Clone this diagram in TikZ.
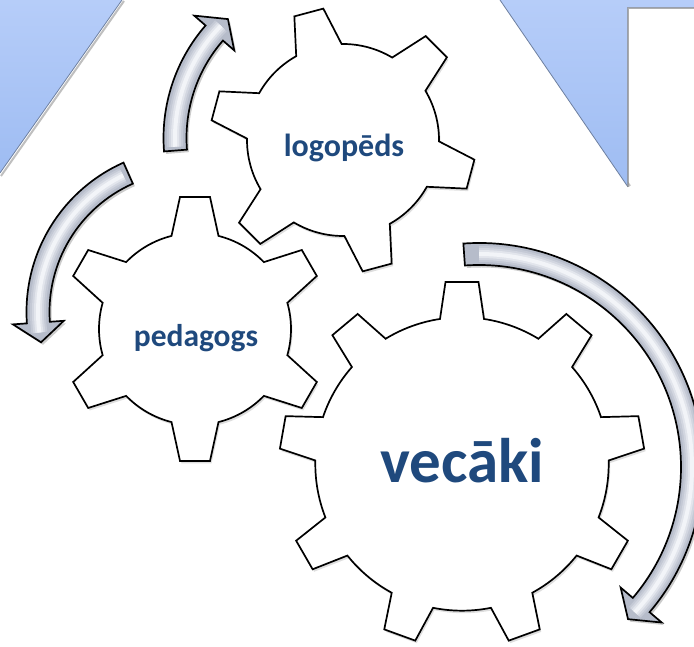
\documentclass[tikz,border=0pt]{standalone}
\usepackage{fontspec}
\setmainfont{Carlito}
\definecolor{txtblue}{HTML}{1F497D}
\definecolor{bluetop}{RGB}{182,205,249}
\definecolor{bluebot}{RGB}{158,188,242}
\definecolor{blueedge}{RGB}{110,128,160}
\definecolor{arrowbase}{RGB}{182,188,202}
\definecolor{arrowc1}{RGB}{196,201,213}
\definecolor{arrowc2}{RGB}{210,214,224}
\definecolor{arrowc3}{RGB}{226,229,236}
\definecolor{arrowc4}{RGB}{242,244,248}
\tikzset{
  gearline/.style={draw=black, fill=white, line width=1.7pt, line join=miter},
  gearshadow/.style={fill=black, opacity=0.13},
  arrowshadow/.style={fill=black, opacity=0.2},
  arrowbody/.style={fill=arrowbase},
  arrowline/.style={draw=black, line width=1.7pt, line join=miter},
  lbl/.style={text=txtblue, inner sep=0pt, anchor=base, font=\bfseries},
}
% #1 centre, #2 teeth, #3 tip radius, #4 root radius, #5 tip half width, #6 root half width, #7 rotation
\newcommand{\drawgear}[7]{%
  \pgfmathsetmacro\gb{atan(#5/#3)}%
  \pgfmathsetmacro\gRt{#3*sqrt(1+(#5/#3)*(#5/#3))}%
  \pgfmathsetmacro\ga{asin(#6/#4)}%
  \pgfmathsetmacro\gs{360/#2}%
  \pgfmathtruncatemacro\gm{#2-1}%
  \def\gearshape{({#7-\ga}:#4) \foreach \k in {0,...,\gm}{ -- ({#7+\k*\gs-\gb}:\gRt) -- ({#7+\k*\gs+\gb}:\gRt) -- ({#7+\k*\gs+\ga}:#4) arc[start angle={#7+\k*\gs+\ga}, end angle={#7+(\k+1)*\gs-\ga}, radius=#4]} -- cycle}%
  \fill[gearshadow, shift={(#1)}, shift={(1.5,-2.5)}] \gearshape;
  \filldraw[gearline, shift={(#1)}] \gearshape;
}
% #1 centre, #2 centre-line radius, #3 shaft half width, #4 head half width, #5 tail angle, #6 head base angle, #7 tip angle
\newcommand{\drawcircarrow}[7]{%
  \pgfmathsetmacro\ro{#2+#3}\pgfmathsetmacro\ri{#2-#3}%
  \pgfmathsetmacro\bo{#2+#4}\pgfmathsetmacro\bi{#2-#4}%
  \pgfmathsetmacro\hs{#5+0.03*(#6-#5)}%
  \pgfmathsetmacro\he{#6+0.5*(#7-#6)}%
  \def\arrowshape{(#5:\ro) arc[start angle=#5, end angle=#6, radius=\ro] -- (#6:\bo) -- (#7:#2) -- (#6:\bi) -- (#6:\ri) arc[start angle=#6, end angle=#5, radius=\ri] -- cycle}%
  \fill[arrowshadow, shift={(#1)}, shift={(2,-2.5)}] \arrowshape;
  \fill[arrowbody, shift={(#1)}] \arrowshape;
  \begin{scope}[shift={(#1)}]
    \clip \arrowshape;
    \draw[arrowc1, line width=16pt] (\hs:#2) arc[start angle=\hs, end angle=\he, radius=#2];
    \draw[arrowc2, line width=12pt] (\hs:#2) arc[start angle=\hs, end angle=\he, radius=#2];
    \draw[arrowc3, line width=8pt] (\hs:#2) arc[start angle=\hs, end angle=\he, radius=#2];
    \draw[arrowc4, line width=4pt] (\hs:#2) arc[start angle=\hs, end angle=\he, radius=#2];
  \end{scope}
  \draw[arrowline, shift={(#1)}] \arrowshape;
}
\begin{document}
\begin{tikzpicture}[x=1pt, y=1pt]
\useasboundingbox (0,0) rectangle (694,647);
\fill[white] (0,0) rectangle (694,647);
% blue background shapes
\draw[black!25, line width=2pt] (124,646) -- (1,471);
\draw[black!25, line width=2pt] (502,646) -- (630,461);
\shade[top color=bluetop, bottom color=bluebot] (0,647) -- (122,647) -- (0,474) -- cycle;
\shade[top color=bluetop, bottom color=bluebot] (500,647) -- (628,460) -- (628,639) -- (694,639) -- (694,647) -- cycle;
\draw[blueedge, line width=0.8pt] (122,647) -- (0,474);
\draw[blueedge, line width=0.8pt] (500,647) -- (628,460);
\draw[black!45, line width=1.6pt, opacity=0.7] (628,460) -- (628,639) -- (694,639);
% centres
\coordinate (gP) at (195,318);
\coordinate (gL) at (343,507);
\coordinate (gV) at (462,183);
\coordinate (aL) at (335,509);
\coordinate (aP) at (190,335);
\coordinate (aV) at (479,180);
% gears
\drawgear{gP}{6}{132}{96}{15}{23.5}{90}
\drawgear{gL}{6}{132}{96}{15}{23.5}{105}
\drawgear{gV}{9}{182}{146.7}{16.5}{22}{90}
% arrows
\drawcircarrow{aL}{160}{11.5}{26.5}{184.5}{139}{132}
\drawcircarrow{aP}{152}{11.5}{25.5}{114}{184}{191.5}
\drawcircarrow{aV}{213}{11}{27}{94}{-40.4}{-45.6}
% labels
\node[lbl, font=\fontsize{32}{32}\selectfont\bfseries] (tL) at (344,490) {logopēds};
\node[lbl, font=\fontsize{31.5}{31.5}\selectfont\bfseries] (tP) at (196,300.3) {pedagogs};
\node[lbl, font=\fontsize{63}{63}\selectfont\bfseries] (tV) at (462,164.3) {vecāki};
\end{tikzpicture}
\end{document}
